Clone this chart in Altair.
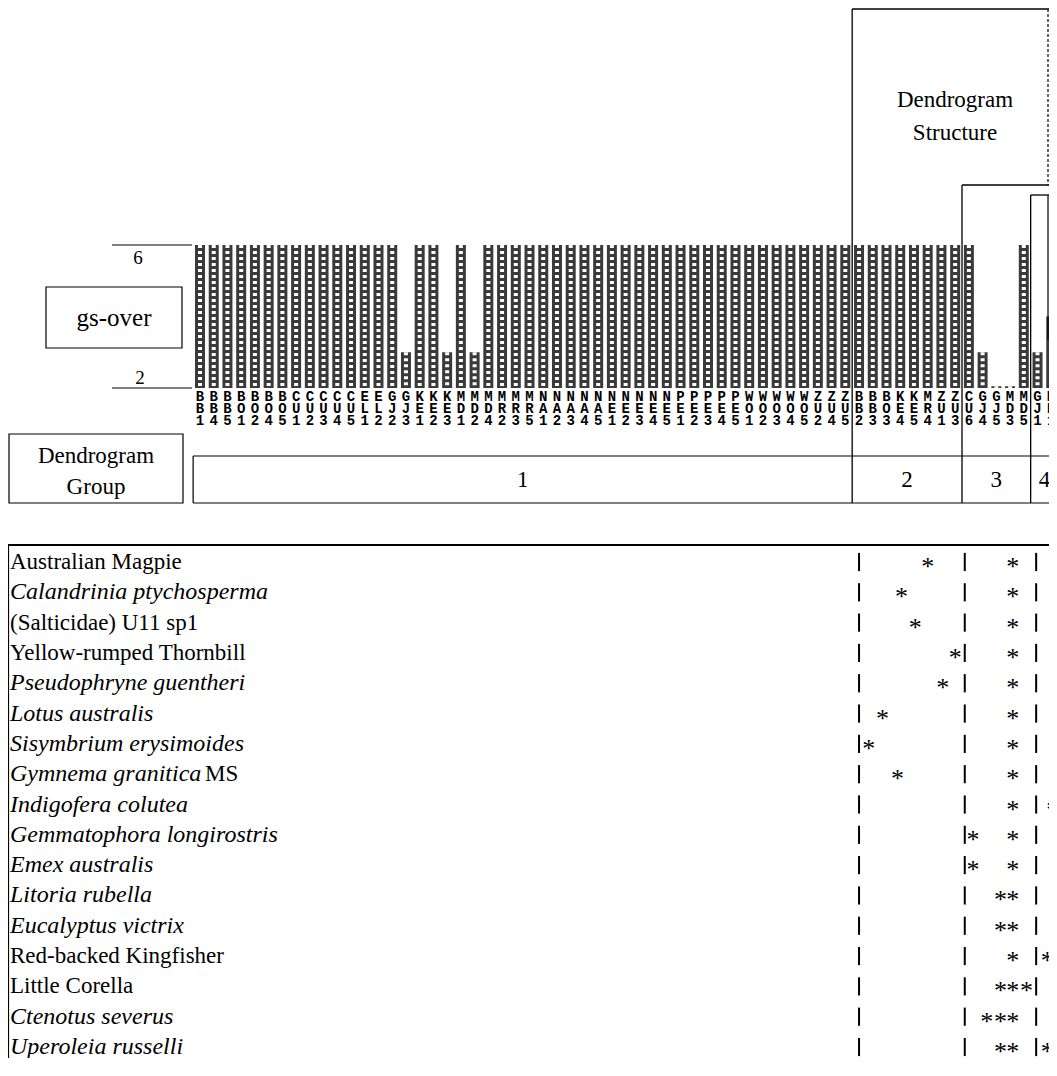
import altair as alt
import pandas as pd

# ---------------- data ----------------
site_codes = [
    "BB1", "BB4", "BB5", "BO1", "BO2", "BO4", "BO5", "CU1", "CU2", "CU3", "CU4", "CU5",
    "EL1", "EL2", "GJ2", "GJ3", "KE1", "KE2", "KE3", "MD1", "MD2", "MD4", "MR2", "MR3",
    "MR5", "NA1", "NA2", "NA3", "NA4", "NA5", "NE1", "NE2", "NE3", "NE4", "NE5", "PE1",
    "PE2", "PE3", "PE4", "PE5", "WO1", "WO2", "WO3", "WO4", "WO5", "ZU2", "ZU4", "ZU5",
    "BB2", "BB3", "BO3", "KE4", "KE5", "MR4", "ZU1", "ZU3",
    "CU6", "GJ4", "GJ5", "MD3", "MD5",
    "GJ1", "MR1",
]
gs_over = [
    6, 6, 6, 6, 6, 6, 6, 6, 6, 6, 6, 6,
    6, 6, 6, 3, 6, 6, 3, 6, 3, 6, 6, 6,
    6, 6, 6, 6, 6, 6, 6, 6, 6, 6, 6, 6,
    6, 6, 6, 6, 6, 6, 6, 6, 6, 6, 6, 6,
    6, 6, 6, 6, 6, 6, 6, 6,
    6, 3, 2.05, 2.05, 6,
    3, 4,
]
site_group = [1] * 48 + [2] * 8 + [3] * 5 + [4] * 2

axis_ticks = [6, 2]

species = [
    "Australian Magpie", "Calandrinia ptychosperma", "(Salticidae) U11 sp1",
    "Yellow-rumped Thornbill", "Pseudophryne guentheri", "Lotus australis",
    "Sisymbrium erysimoides", "Gymnema granitica", "Indigofera colutea",
    "Gemmatophora longirostris", "Emex australis", "Litoria rubella",
    "Eucalyptus victrix", "Red-backed Kingfisher", "Little Corella",
    "Ctenotus severus", "Uperoleia russelli",
]
species_italic = [False, True, False, False, True, True, True, True, True,
                  True, True, True, True, False, False, True, True]
species_suffix = ["", "", "", "", "", "", "", "MS", "", "", "", "", "", "", "", "", ""]

# asterisks: table row index and site position (in site units)
star_row = [0, 0, 1, 1, 2, 2, 3, 3, 4, 4, 5, 5, 6, 6, 7, 7, 8, 8,
            9, 9, 10, 10, 11, 11, 12, 12, 13, 13, 13, 14, 14, 14,
            15, 15, 15, 16, 16, 16]
star_site = [54.0, 60.2, 52.1, 60.2, 53.1, 60.2, 56.0, 60.2, 55.1, 60.2,
             50.7, 60.2, 49.7, 60.2, 51.8, 60.2, 60.2, 63.1,
             57.3, 60.2, 57.3, 60.2, 59.3, 60.2, 59.3, 60.2,
             60.2, 62.7, 63.6, 59.3, 60.2, 61.2,
             58.3, 59.3, 60.2, 59.3, 60.2, 62.7]
pipe_site = [49.0, 56.7, 61.9]

# ---------------- layout ----------------
W, H = 1041, 1050
STEP = 13.73
serif = "Liberation Serif"
mono = "Liberation Mono"

xs = alt.Scale(domain=[1, 63], range=[192, 192 + 62 * STEP], nice=False, zero=False, padding=0)
ys_gs = alt.Scale(domain=[2, 6], range=[380, 237], nice=False, zero=False, padding=0)
ys_row = alt.Scale(domain=[0, 16], range=[554, 1039], nice=False, zero=False, padding=0)

sites = pd.DataFrame({"site": list(range(1, len(site_codes) + 1)), "code": site_codes,
                      "gs": gs_over, "group": site_group})
sites["c1"] = sites["code"].str[0]
sites["c2"] = sites["code"].str[1]
sites["c3"] = sites["code"].str[2]

grp = sites.groupby("group")["site"].agg(["min", "max"]).reset_index()
grp["center"] = (grp["min"] + grp["max"]) / 2
grp["label"] = grp["group"].astype(str)
grp["bound"] = grp["max"] + 0.5
struct_top = {1: 1, 2: 177, 3: 187}
bounds = grp[grp["group"] < 4].copy()
bounds["top"] = bounds["group"].map(struct_top)

one = pd.DataFrame({"a": [0]})
X = alt.X("site:Q", scale=xs, axis=None)


def hline(x1, x2, y, sw=1.2, dash=None):
    kw = dict(color="black", strokeWidth=sw)
    if dash:
        kw["strokeDash"] = dash
    return alt.Chart(one).mark_rule(**kw).encode(
        x=alt.value(x1), x2=alt.value(x2), y=alt.value(y))


def vline(x, y1, y2, sw=1.2, dash=None):
    kw = dict(color="black", strokeWidth=sw)
    if dash:
        kw["strokeDash"] = dash
    return alt.Chart(one).mark_rule(**kw).encode(
        x=alt.value(x), y=alt.value(y1), y2=alt.value(y2))


def label(text, x, y, size=23, **kw):
    return alt.Chart(pd.DataFrame({"t": [text]})).mark_text(
        font=serif, fontSize=size, color="black", **kw).encode(
        x=alt.value(x), y=alt.value(y), text="t:N")


def box(x1, x2, y1, y2):
    return alt.Chart(one).mark_rect(fill="white", stroke="black", strokeWidth=1.2).encode(
        x=alt.value(x1), x2=alt.value(x2), y=alt.value(y1), y2=alt.value(y2))


layers = []

# bars with a cross-hatch-like texture
base = alt.Chart(sites)
Ygs = alt.Y("gs:Q", scale=ys_gs, axis=None)
layers.append(base.mark_bar(size=10, color="#3a3a3a").encode(x=X, y=Ygs, y2=alt.datum(2)))
layers.append(base.mark_rule(color="white", strokeWidth=4, strokeDash=[3, 3]).encode(
    x=X, y=Ygs, y2=alt.datum(2)))

# site code labels (three rows)
for col, yy in (("c1", 389), ("c2", 401), ("c3", 413)):
    layers.append(base.mark_text(font=mono, fontSize=14, fontWeight="bold", color="black").encode(
        x=X, y=alt.value(yy), text=f"{col}:N"))

# gs-over axis lines and ticks
ax = pd.DataFrame({"v": axis_ticks, "t": [str(v) for v in axis_ticks]})
layers.append(alt.Chart(ax).mark_rule(color="black", strokeWidth=1.2).encode(
    x=alt.value(104), x2=alt.value(184), y=alt.Y("v:Q", scale=ys_gs, axis=None)))
layers.append(alt.Chart(ax[ax.v == 6]).mark_text(font=serif, fontSize=19, dy=13, color="black").encode(
    x=alt.value(130), y=alt.Y("v:Q", scale=ys_gs, axis=None), text="t:N"))
layers.append(alt.Chart(ax[ax.v == 2]).mark_text(font=serif, fontSize=19, dy=-10, color="black").encode(
    x=alt.value(132), y=alt.Y("v:Q", scale=ys_gs, axis=None), text="t:N"))

# gs-over box
layers.append(box(38, 174, 279, 340))
layers.append(label("gs-over", 106, 310, size=25))

# Dendrogram Group box
layers.append(box(1, 175, 426, 495))
layers.append(label("Dendrogram", 88, 448, size=23))
layers.append(label("Group", 88, 479, size=23))

# group bar
edge = pd.DataFrame({"b": [0.5]})
layers.append(alt.Chart(edge).mark_rule(color="black", strokeWidth=1.2).encode(
    x=alt.X("b:Q", scale=xs, axis=None), x2=alt.value(W), y=alt.value(448)))
layers.append(alt.Chart(edge).mark_rule(color="black", strokeWidth=1.2).encode(
    x=alt.X("b:Q", scale=xs, axis=None), x2=alt.value(W), y=alt.value(495)))
layers.append(alt.Chart(edge).mark_rule(color="black", strokeWidth=1.2).encode(
    x=alt.X("b:Q", scale=xs, axis=None), y=alt.value(448), y2=alt.value(495)))
layers.append(alt.Chart(grp).mark_text(font=serif, fontSize=23, color="black").encode(
    x=alt.X("center:Q", scale=xs, axis=None), y=alt.value(472), text="label:N"))

# dendrogram structure
layers.append(alt.Chart(bounds).mark_rule(color="black", strokeWidth=1.3).encode(
    x=alt.X("bound:Q", scale=xs, axis=None), y=alt.Y("top:Q", scale=None), y2=alt.value(495)))
layers.append(alt.Chart(bounds).mark_rule(color="black", strokeWidth=1.3).encode(
    x=alt.X("bound:Q", scale=xs, axis=None), x2=alt.value(W), y=alt.Y("top:Q", scale=None)))
layers.append(vline(1040, 1, 177, dash=[3, 2]))
layers.append(vline(1040, 187, 332))
layers.append(label("Dendrogram", 947, 92, size=23))
layers.append(label("Structure", 947, 125, size=23))

# table
layers.append(hline(0, W, 537, sw=2))
layers.append(vline(0.5, 537, H))

names = pd.DataFrame({"row": list(range(len(species))), "name": species,
                      "italic": species_italic, "suffix": species_suffix})
Yrow = alt.Y("row:Q", scale=ys_row, axis=None)
layers.append(alt.Chart(names).transform_filter("datum.italic").mark_text(
    font=serif, fontSize=24, fontStyle="italic", align="left", baseline="middle", color="black").encode(
    x=alt.value(2), y=Yrow, text="name:N"))
layers.append(alt.Chart(names).transform_filter("!datum.italic").mark_text(
    font=serif, fontSize=23, align="left", baseline="middle", color="black").encode(
    x=alt.value(2), y=Yrow, text="name:N"))
layers.append(alt.Chart(names).transform_filter("datum.suffix != ''").mark_text(
    font=serif, fontSize=23, align="left", baseline="middle", color="black").encode(
    x=alt.value(197), y=Yrow, text="suffix:N"))

# column separators in the table ("|")
pipes = pd.DataFrame([(r, p) for r in range(len(species)) for p in pipe_site], columns=["row", "pos"])
layers.append(alt.Chart(pipes).transform_calculate(
    r0="datum.row - 0.3", r1="datum.row + 0.3").mark_rule(color="black", strokeWidth=2).encode(
    x=alt.X("pos:Q", scale=xs, axis=None),
    y=alt.Y("r0:Q", scale=ys_row, axis=None), y2="r1:Q"))

stars = pd.DataFrame({"row": star_row, "pos": star_site})
layers.append(alt.Chart(stars).mark_text(font=serif, fontSize=26, baseline="middle", dy=5,
                                         text="*", color="black").encode(
    x=alt.X("pos:Q", scale=xs, axis=None), y=Yrow))

chart = alt.layer(*layers).resolve_scale(y="independent").properties(
    width=W, height=H, autosize=alt.AutoSizeParams(type="none"), padding=0,
    background="white").configure_view(stroke=None)

chart.save("out.html", embed_options={"renderer": "svg", "actions": False})
